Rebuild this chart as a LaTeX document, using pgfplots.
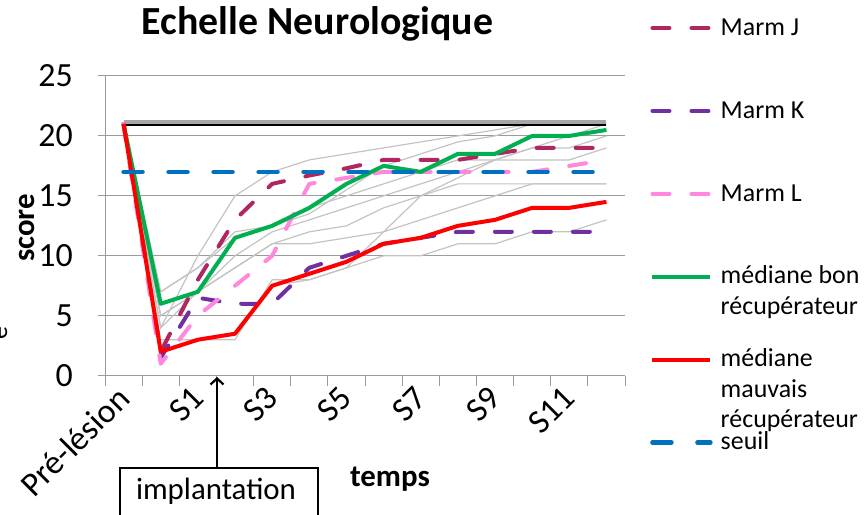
\documentclass[border=0pt]{standalone}
\usepackage{fontspec}
\setmainfont{Carlito}
\usepackage{pgfplots}
\pgfplotsset{compat=1.18}
\usepackage{pgfplotstable}
\usetikzlibrary{arrows.meta}

\definecolor{cJ}{RGB}{176,38,96}
\definecolor{cK}{RGB}{112,48,160}
\definecolor{cL}{RGB}{255,136,220}
\definecolor{cbon}{RGB}{0,176,80}
\definecolor{cmau}{RGB}{255,0,0}
\definecolor{cseuil}{RGB}{0,112,192}
\definecolor{cgrey}{RGB}{195,195,195}
\definecolor{cgrid}{RGB}{155,155,155}
\definecolor{cmax}{RGB}{166,166,166}

\newcommand{\lgd}[1]{\raisebox{0pt}[16bp][0pt]{\begin{tabular}[t]{@{}l@{}}#1\end{tabular}}}

\pgfplotstableread{
x  J    K    L    bon  mauv seuil max g1   g2   g3   g4   g5   g6   g7   g8
0  21   21   21   21   21   17    21  21   21   21   21   21   21   21   21
1  2    1.5  1    6    2    17    21  4    7    7    5    2    3    5    4
2  8    6.5  5    7    3    17    21  10   9    9    7    3    3    7    7
3  13   6    7.5  11.5 3.5  17    21  15   12   11.5 9    3    3.5  9    10
4  16   6    10   12.5 7.5  17    21  17   12.5 12.5 11   8    7.5  11   12
5  16.7 9    16   14   8.5  17    21  18   14   13.5 12   8    8    11   13
6  17.3 10   16.5 16   9.5  17    21  18.5 15   15.5 12.5 9    9    11.5 14
7  18   11   17   17.5 11   17    21  19   16   17.5 14   12   10   12   15
8  18   11.5 17   17   11.5 17    21  19.5 17   18.5 15   15   10   13   16
9  18   12   17   18.5 12.5 17    21  20   18   19.5 16   16.5 11   14   17
10 18.5 12   17   18.5 13   17    21  20.5 18   20   16   18   11   15   18
11 19   12   17   20   14   17    21  21   19   21   16   18   12   16   19
12 19   12   17.5 20   14   17    21  21   19   21   16   18   12   16   20
13 19   12   18   20.5 14.5 17    21  21   20   21   16   19   13   16   21
}\data

\begin{document}
\begin{tikzpicture}[x=1bp,y=1bp]
\useasboundingbox (0,0) rectangle (868,515);
\begin{axis}[
  at={(105bp,139.3bp)}, anchor=south west,
  scale only axis, width=520bp, height=299.7bp,
  xmin=-0.5, xmax=13.5, ymin=0, ymax=25,
  axis x line*=bottom, axis y line*=left,
  axis line style={-, draw=cgrid, line width=1bp},
  xtick={0,2,...,12},
  xticklabels={Pré-lésion,S1,S3,S5,S7,S9,S11},
  minor xtick={-0.5,0.5,...,13.5},
  ytick={0,5,...,25},
  tick align=outside,
  major tick length=7bp, minor tick length=10bp,
  major x tick style={draw=none},
  minor x tick style={draw=cgrid, line width=1bp},
  major y tick style={draw=cgrid, line width=1bp},
  ymajorgrids, grid style={draw=cgrid, line width=1bp},
  /pgf/number format/assume math mode=true,
  yticklabel style={font=\fontsize{34}{34}\selectfont, inner sep=0pt, xshift=-25bp},
  xticklabel style={font=\fontsize{34}{34}\selectfont, inner sep=0pt, anchor=east, yshift=-10bp, rotate=45},
  title={Echelle Neurologique},
  title style={font=\bfseries\fontsize{40}{40}\selectfont, at={(axis description cs:0.4087,1.1201)}, anchor=base, inner sep=0pt},
  xlabel={temps},
  xlabel style={font=\bfseries\fontsize{31}{31}\selectfont, at={(axis description cs:0.548,-0.37)}, anchor=base, inner sep=0pt},
  ylabel={score},
  ylabel style={font=\bfseries\fontsize{31}{31}\selectfont, at={(axis description cs:-0.15,0.4928)}, anchor=center, rotate=0, inner sep=0pt},
  legend image code/.code={\draw[#1] (0bp,0bp) -- (58bp,0bp);},
  legend cell align=left,
  legend style={at={(axis description cs:1.0481,1.190)}, anchor=north west,
    draw=none, fill=none, inner xsep=0pt, inner ysep=0pt,
    nodes={inner sep=0pt}, row sep=65.4bp, column sep=8bp,
    font=\fontsize{26}{30.5}\selectfont},
]
\addplot[cgrey, line width=1.2bp, forget plot] table[x=x,y=g1]{\data};
\addplot[cgrey, line width=1.2bp, forget plot] table[x=x,y=g2]{\data};
\addplot[cgrey, line width=1.2bp, forget plot] table[x=x,y=g3]{\data};
\addplot[cgrey, line width=1.2bp, forget plot] table[x=x,y=g4]{\data};
\addplot[cgrey, line width=1.2bp, forget plot] table[x=x,y=g5]{\data};
\addplot[cgrey, line width=1.2bp, forget plot] table[x=x,y=g6]{\data};
\addplot[cgrey, line width=1.2bp, forget plot] table[x=x,y=g7]{\data};
\addplot[cgrey, line width=1.2bp, forget plot] table[x=x,y=g8]{\data};
\addplot[cmax, line width=5bp, forget plot, yshift=1.2bp] table[x=x,y=max]{\data};
\addplot[black, line width=2.2bp, forget plot, yshift=-1.2bp] table[x=x,y=max]{\data};

\addplot[cJ, line width=4bp, dash pattern=on 17bp off 22bp, line cap=round, line join=round] table[x=x,y=J]{\data};
\addlegendentry{\lgd{Marm J}}
\addplot[cK, line width=4bp, dash pattern=on 17bp off 22bp, line cap=round, line join=round] table[x=x,y=K]{\data};
\addlegendentry{\lgd{Marm K}}
\addplot[cL, line width=4bp, dash pattern=on 17bp off 22bp, line cap=round, line join=round] table[x=x,y=L]{\data};
\addlegendentry{\lgd{Marm L}}
\addplot[cbon, line width=4bp, line join=round] table[x=x,y=bon]{\data};
\addlegendentry{\lgd{médiane bon\\récupérateur}}
\addplot[cmau, line width=4bp, line join=round] table[x=x,y=mauv]{\data};
\addlegendentry{\lgd{médiane\\mauvais\\récupérateur}}
\addplot[cseuil, line width=4.5bp, dash pattern=on 19bp off 26bp, line cap=round] table[x=x,y=seuil]{\data};
\addlegendentry{\lgd{seuil}}
\end{axis}
\draw[line width=1.3bp] (120,-10) rectangle (318,47);
\node[font=\fontsize{31}{31}\selectfont, anchor=base, inner sep=0pt] at (216,15) {implantation};
\draw[line width=2.2bp, -{Straight Barb[length=6bp,width=13bp]}] (217,47) -- (217,138);
\node[rotate=90, font=\fontsize{26}{26}\selectfont, anchor=base, inner sep=0pt] at (7,182) {e};
\end{tikzpicture}
\end{document}
